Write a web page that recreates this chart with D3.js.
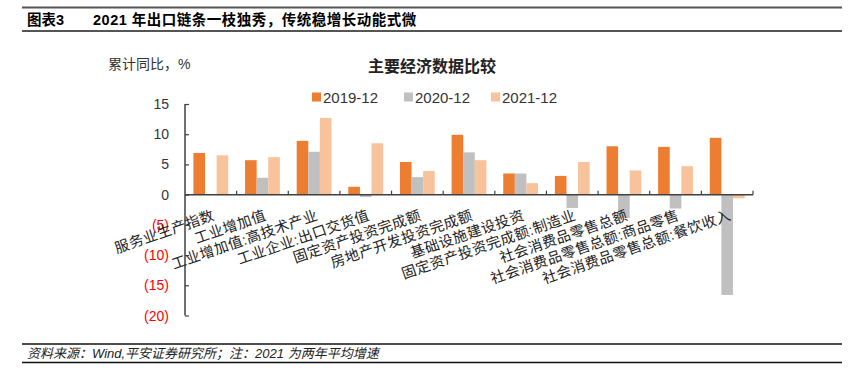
<!DOCTYPE html>
<html>
<head>
<meta charset="utf-8">
<script src="https://cdn.jsdelivr.net/npm/d3@7"></script>
<style>
  body { margin: 0; background: #fff; }
  svg { display: block; font-family: "Liberation Sans", "Noto Sans CJK SC", sans-serif; }
</style>
</head>
<body>
<svg id="chart"></svg>
<script>
var width = 860,
    height = 379;

// data
var categories = ["服务业生产指数", "工业增加值", "工业增加值:高技术产业", "工业企业:出口交货值",
  "固定资产投资完成额", "房地产开发投资完成额", "基础设施建设投资", "固定资产投资完成额:制造业",
  "社会消费品零售总额", "社会消费品零售总额:商品零售", "社会消费品零售总额:餐饮收入"];
var seriesNames = ["2019-12", "2020-12", "2021-12"];
var v2019 = [6.9, 5.7, 8.9, 1.3, 5.4, 9.9, 3.5, 3.1, 8.0, 7.9, 9.4];
var v2020 = [0.0, 2.8, 7.1, -0.4, 2.9, 7.0, 3.5, -2.2, -3.9, -2.3, -16.6];
var v2021 = [6.5, 6.2, 12.7, 8.5, 3.9, 5.7, 1.9, 5.4, 4.0, 4.7, -0.6];
var yTicks = [15, 10, 5, 0, -5, -10, -15, -20];
var colors = ["#ED7D31", "#C0C0C0", "#F8C29B"];

var values = [v2019, v2020, v2021];

var svg = d3.select("#chart")
    .attr("width", width)
    .attr("height", height);

// header
svg.append("line").attr("x1", 22).attr("x2", 842).attr("y1", 7.5).attr("y2", 7.5)
  .attr("stroke", "#555").attr("stroke-width", 2);
svg.append("line").attr("x1", 22).attr("x2", 842).attr("y1", 31).attr("y2", 31)
  .attr("stroke", "#555").attr("stroke-width", 2);
svg.append("text").attr("x", 27).attr("y", 25)
  .style("font-size", "14.5px").style("font-weight", "bold").text("图表3");
svg.append("text").attr("x", 93).attr("y", 25)
  .style("font-size", "14.5px").style("font-weight", "bold").style("letter-spacing", "0.5px")
  .text("2021 年出口链条一枝独秀，传统稳增长动能式微");

// footer
svg.append("line").attr("x1", 22).attr("x2", 842).attr("y1", 344).attr("y2", 344)
  .attr("stroke", "#111").attr("stroke-width", 1.5);
svg.append("line").attr("x1", 22).attr("x2", 842).attr("y1", 362.5).attr("y2", 362.5)
  .attr("stroke", "#111").attr("stroke-width", 1.5);
svg.append("text").attr("x", 27).attr("y", 358)
  .style("font-size", "13px").style("font-style", "italic").attr("fill", "#222")
  .text("资料来源：Wind,平安证券研究所；注：2021 为两年平均增速");

// chart titles
svg.append("text").attr("x", 108).attr("y", 69)
  .style("font-size", "14px").attr("fill", "#333").text("累计同比，%");
svg.append("text").attr("x", 432).attr("y", 72).attr("text-anchor", "middle")
  .style("font-size", "16px").style("font-weight", "bold").attr("fill", "#222")
  .text("主要经济数据比较");

// legend
var legendX = [312, 404, 491];
var legend = svg.append("g");
seriesNames.forEach(function(name, i) {
  legend.append("rect").attr("x", legendX[i]).attr("y", 92.5)
    .attr("width", 9).attr("height", 9).attr("fill", colors[i]);
  legend.append("text").attr("x", legendX[i] + 11).attr("y", 102.5)
    .style("font-size", "15px").attr("fill", "#333").text(name);
});

// scales
var plotLeft = 185, plotRight = 753;
var xScale = d3.scaleBand().domain(d3.range(categories.length)).range([plotLeft, plotRight]);
var bw = xScale.bandwidth();
var pad = bw * 0.163;
var xInner = d3.scaleBand().domain(d3.range(seriesNames.length)).range([pad, bw - pad]);
var yScale = d3.scaleLinear().domain([-20, 15]).range([315.5, 104]);

// bars
var bars = svg.append("g");
values.forEach(function(vals, s) {
  bars.selectAll("rect.s" + s)
    .data(vals)
    .enter()
    .append("rect")
      .attr("class", "s" + s)
      .attr("x", function(d, i) { return xScale(i) + xInner(s); })
      .attr("y", function(d) { return yScale(Math.max(d, 0)); })
      .attr("width", xInner.bandwidth())
      .attr("height", function(d) { return Math.abs(yScale(d) - yScale(0)); })
      .attr("fill", colors[s]);
});

// y axis
var yAxisGroup = svg.append("g").attr("transform", "translate(" + plotLeft + ",0)");
yAxisGroup.call(d3.axisRight(yScale).tickValues(yTicks).tickSize(4).tickFormat(""));
yAxisGroup.select(".domain").attr("stroke", "#404040").attr("stroke-width", 1.5)
  .attr("d", "M0," + yScale(15) + "V" + yScale(-20));
yAxisGroup.selectAll(".tick line").attr("stroke", "#404040").attr("stroke-width", 1.2);

svg.append("g").selectAll("text")
  .data(yTicks)
  .enter()
  .append("text")
    .attr("x", 169)
    .attr("y", function(d) { return yScale(d); })
    .attr("dy", "0.36em")
    .attr("text-anchor", "end")
    .style("font-size", "14px")
    .attr("fill", function(d) { return d < 0 ? "#FF0000" : "#333"; })
    .text(function(d) { return d < 0 ? "(" + (-d) + ")" : d; });

// x axis at zero
var xAxisGroup = svg.append("g");
xAxisGroup.append("line")
  .attr("x1", plotLeft).attr("x2", plotRight)
  .attr("y1", yScale(0)).attr("y2", yScale(0))
  .attr("stroke", "#404040").attr("stroke-width", 1.5);
xAxisGroup.selectAll("line.tk")
  .data(d3.range(1, categories.length + 1))
  .enter()
  .append("line")
    .attr("class", "tk")
    .attr("x1", function(d) { return plotLeft + d * bw; })
    .attr("x2", function(d) { return plotLeft + d * bw; })
    .attr("y1", yScale(0))
    .attr("y2", yScale(0) - 4)
    .attr("stroke", "#404040").attr("stroke-width", 1.2);

// rotated category labels
svg.append("g").selectAll("text")
  .data(categories)
  .enter()
  .append("text")
    .attr("transform", function(d, i) {
      return "translate(" + (xScale(i) + bw / 2 + 3) + "," + (yScale(0) + 20) + ") rotate(-19)";
    })
    .attr("dy", "0.35em")
    .attr("text-anchor", "end")
    .style("font-size", "14.5px")
    .style("letter-spacing", "0.4px")
    .attr("fill", "#222")
    .text(function(d) { return d; });
</script>
</body>
</html>
